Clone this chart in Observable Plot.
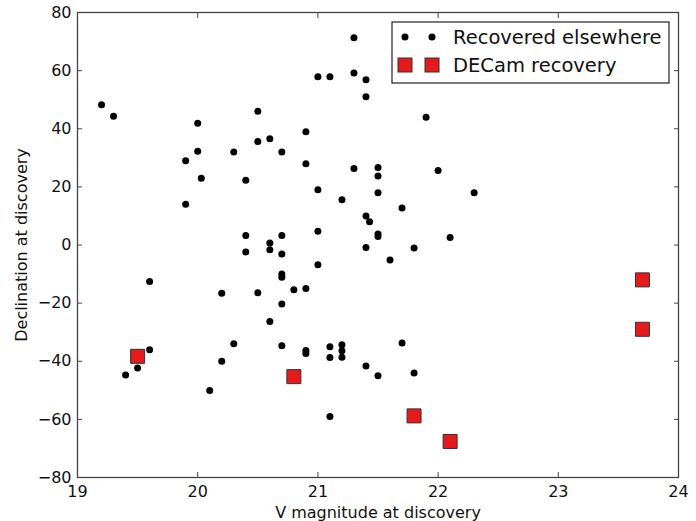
<!DOCTYPE html>
<html>
<head>
<meta charset="utf-8">
<script src="https://cdn.jsdelivr.net/npm/d3@7"></script>
<script src="https://cdn.jsdelivr.net/npm/@observablehq/plot@0.6"></script>
<style>
  html, body { margin: 0; padding: 0; background: #fff; }
  #chart { position: relative; width: 696px; height: 521px; }
</style>
</head>
<body>
<div id="chart"></div>
<script>
// Recovered elsewhere (black dots)
const recMag = [19.2, 19.3, 20.0, 20.5, 20.0, 19.9, 20.3, 20.5, 20.6, 20.7,
  20.03, 20.4, 19.9, 20.4, 20.6, 20.7, 21.3, 21.0, 21.1, 21.3,
  21.4, 21.4, 21.9, 20.9, 20.9, 21.3, 21.5, 21.5, 22.0, 21.0,
  21.2, 21.5, 22.3, 21.7, 21.4, 21.43, 21.0, 21.5, 21.5, 22.1,
  21.4, 21.8, 20.6, 20.7, 21.6, 21.0, 20.7, 20.7, 20.8, 20.9,
  20.7, 20.6, 20.7, 20.9, 20.9, 21.1, 21.1, 21.2, 21.2, 21.2,
  21.7, 21.4, 21.5, 21.8, 21.1, 19.6, 19.6, 19.5, 19.4, 20.2,
  20.5, 20.3, 20.2, 20.1, 20.4];
const recDec = [48.3, 44.3, 41.9, 46.0, 32.3, 29.0, 32.0, 35.6, 36.6, 32.0,
  23.0, 22.3, 14.0, 3.3, 0.7, 3.3, 71.3, 57.9, 57.9, 59.2,
  56.9, 51.0, 44.0, 39.0, 28.0, 26.3, 26.7, 23.7, 25.6, 19.0,
  15.6, 18.0, 18.0, 12.7, 10.0, 8.0, 4.7, 3.8, 2.9, 2.6,
  -0.9, -1.0, -1.6, -3.1, -5.2, -6.8, -10.0, -11.1, -15.4, -15.0,
  -20.3, -26.3, -34.7, -36.3, -37.3, -35.0, -38.7, -34.3, -36.4, -38.6,
  -33.7, -41.6, -45.0, -44.0, -59.0, -12.6, -36.0, -42.3, -44.7, -16.6,
  -16.4, -34.0, -40.0, -50.1, -2.4];
// DECam recovery (red squares)
const decamMag = [19.5, 20.8, 21.8, 22.1, 23.7, 23.7];
const decamDec = [-38.3, -45.3, -58.8, -67.6, -12.0, -29.0];

const xTicks = [19, 20, 21, 22, 23, 24];
const yTicks = [-80, -60, -40, -20, 0, 20, 40, 60, 80];
const legendLabels = ["Recovered elsewhere", "DECam recovery"];

const recovered = recMag.map((m, i) => ({mag: m, dec: recDec[i]}));
const decam = decamMag.map((m, i) => ({mag: m, dec: decamDec[i]}));

const axisColor = "#444";
const fontFamily = "'DejaVu Sans', sans-serif";

const plot = Plot.plot({
  width: 696,
  height: 521,
  marginLeft: 77,
  marginRight: 18,
  marginTop: 12,
  marginBottom: 44,
  style: {fontFamily, fontSize: "16px", color: "#111", background: "#fff"},
  x: {domain: [19, 24]},
  y: {domain: [-80, 80]},
  marks: [
    Plot.axisX({ticks: xTicks, tickSize: -5, tickPadding: 13, stroke: axisColor, tickFormat: d3.format("d"),
      label: "V magnitude at discovery", labelAnchor: "center", labelArrow: "none", labelOffset: 40}),
    Plot.axisX({anchor: "top", ticks: xTicks, tickSize: -5, tickFormat: () => "", stroke: axisColor, label: null}),
    Plot.axisY({ticks: yTicks, tickSize: -5, tickPadding: 11, stroke: axisColor,
      label: "Declination at discovery", labelAnchor: "center", labelArrow: "none", labelOffset: 62}),
    Plot.axisY({anchor: "right", ticks: yTicks, tickSize: -5, tickFormat: () => "", stroke: axisColor, label: null}),
    Plot.dot(recovered, {x: "mag", y: "dec", r: 3.5, fill: "#000", stroke: "none"}),
    Plot.dot(decam, {x: "mag", y: "dec", symbol: "square", r: 7.9, fill: "#e41a1c", stroke: "#333", strokeWidth: 1}),
    Plot.frame({stroke: axisColor, strokeWidth: 1.3})
  ]
});

document.getElementById("chart").appendChild(plot);

// Legend (matplotlib style, two markers per entry)
const svg = d3.select(plot);
const lg = svg.append("g").attr("class", "legend").attr("text-anchor", "start");
lg.append("rect").attr("x", 392).attr("y", 22).attr("width", 277).attr("height", 61)
  .attr("fill", "#fff").attr("stroke", "#222").attr("stroke-width", 1.2);
const rowY = [37, 65];
const markX = [405, 432];
markX.forEach(x => {
  lg.append("circle").attr("cx", x).attr("cy", rowY[0]).attr("r", 3.5).attr("fill", "#000");
  lg.append("rect").attr("x", x - 7).attr("y", rowY[1] - 7).attr("width", 14).attr("height", 14)
    .attr("fill", "#e41a1c").attr("stroke", "#333").attr("stroke-width", 1);
});
legendLabels.forEach((t, i) => {
  lg.append("text").attr("x", 453).attr("y", rowY[i]).attr("dy", "0.35em")
    .attr("text-anchor", "start")
    .attr("font-family", fontFamily).attr("font-size", "19.5px").attr("fill", "#111").text(t);
});
</script>
</body>
</html>
